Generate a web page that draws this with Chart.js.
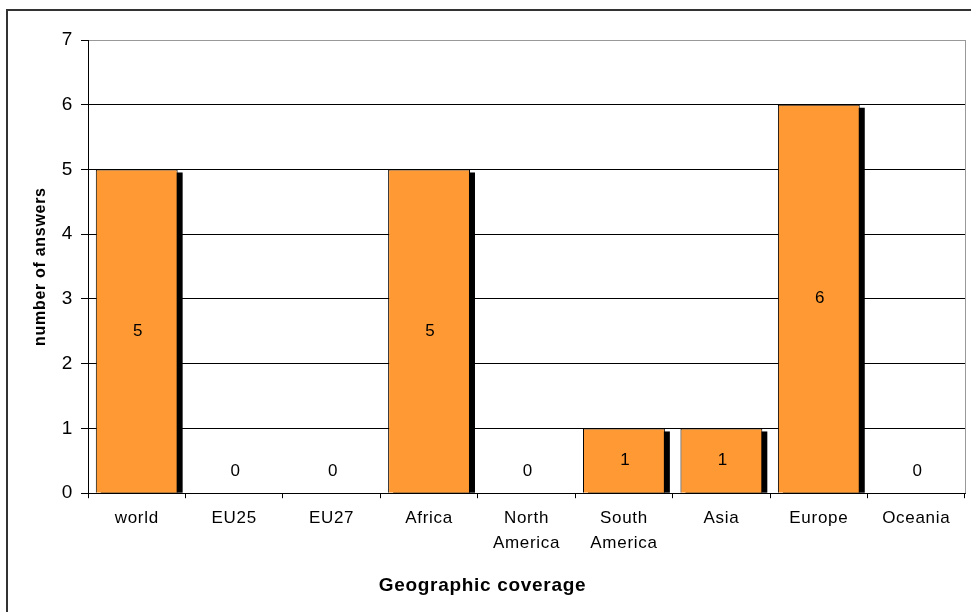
<!DOCTYPE html>
<html>
<head>
<meta charset="utf-8">
<script src="https://cdn.jsdelivr.net/npm/chart.js@4"></script>
<style>
    html, body { margin: 0; padding: 0; background: #fff; }
    #wrap { width: 971px; height: 612px; }
</style>
</head>
<body>
<div id="wrap"><canvas id="geoChart" width="971" height="612"></canvas></div>
<script>
// datos
var categorias = ['world', 'EU25', 'EU27', 'Africa', ['North', 'America'], ['South', 'America'], 'Asia', 'Europe', 'Oceania'];
var respuestas = [5, 0, 0, 5, 0, 1, 1, 6, 0];
var ejeY = [0, 1, 2, 3, 4, 5, 6, 7];

var fuente = 'Liberation Sans, Arial, sans-serif';
var espacio = '0.7px';

// espaciado de letras como en el original
var espaciado = {
    id: 'espaciado',
    beforeLayout: function(chart) { chart.ctx.letterSpacing = espacio; },
    beforeDraw: function(chart) { chart.ctx.letterSpacing = espacio; }
};

// sombra negra de las barras
var sombra = {
    id: 'sombra',
    beforeDatasetsDraw: function(chart) {
        var ctx = chart.ctx;
        var area = chart.chartArea;
        ctx.save();
        ctx.beginPath();
        ctx.rect(area.left, area.top, area.right - area.left, area.bottom - area.top);
        ctx.clip();
        ctx.fillStyle = '#000';
        chart.getDatasetMeta(0).data.forEach(function(bar, i) {
            if (!respuestas[i]) return;
            var p = bar.getProps(['x', 'y', 'base', 'width'], true);
            ctx.fillRect(p.x - p.width / 2 + 5, p.y + 3, p.width, p.base - p.y - 3);
        });
        ctx.restore();
    }
};

// valores dentro de las barras, borde derecho y marco exterior
var etiquetas = {
    id: 'etiquetas',
    afterDraw: function(chart) {
        var ctx = chart.ctx;
        var area = chart.chartArea;
        ctx.save();
        ctx.letterSpacing = '0px';
        ctx.font = '17px ' + fuente;
        ctx.fillStyle = '#000';
        ctx.textAlign = 'center';
        ctx.textBaseline = 'middle';
        chart.getDatasetMeta(0).data.forEach(function(bar, i) {
            var p = bar.getProps(['x', 'y', 'base'], true);
            var yy = respuestas[i] ? (p.y + p.base) / 2 : p.base - 22;
            ctx.fillText(String(respuestas[i]), p.x + 1, yy);
        });
        ctx.strokeStyle = '#999';
        ctx.lineWidth = 1;
        ctx.beginPath();
        ctx.moveTo(Math.round(area.right) + 0.5, area.top);
        ctx.lineTo(Math.round(area.right) + 0.5, area.bottom);
        ctx.stroke();
        ctx.fillStyle = '#333';
        ctx.fillRect(6, 9, 965, 2);
        ctx.fillRect(6, 9, 2, 603);
        ctx.restore();
    }
};

var ctx = document.getElementById('geoChart').getContext('2d');
var chart = new Chart(ctx, {
    type: 'bar',
    data: {
        labels: categorias,
        datasets: [{
            label: 'number of answers',
            data: respuestas,
            backgroundColor: '#FF9933',
            borderColor: '#000',
            borderWidth: 1,
            barPercentage: 0.84,
            categoryPercentage: 1
        }]
    },
    options: {
        responsive: false,
        animation: false,
        layout: { padding: { top: 40, right: 6, left: 0, bottom: 0 } },
        plugins: {
            legend: { display: false },
            tooltip: { enabled: false },
            title: {
                display: true,
                position: 'bottom',
                text: 'Geographic coverage',
                color: '#000',
                font: { family: fuente, size: 19, weight: 'bold', lineHeight: 1.2 },
                padding: { top: 0, bottom: 15 }
            }
        },
        scales: {
            x: {
                grid: {
                    display: true,
                    drawOnChartArea: false,
                    drawTicks: true,
                    tickLength: 5,
                    offset: true,
                    color: '#000'
                },
                border: { color: '#000' },
                ticks: {
                    color: '#000',
                    padding: 8,
                    maxRotation: 0,
                    autoSkip: false,
                    font: { family: fuente, size: 17, lineHeight: 1.45 }
                },
                afterFit: function(scale) { scale.height = 81; }
            },
            y: {
                min: 0,
                max: 7,
                afterBuildTicks: function(scale) {
                    scale.ticks = ejeY.map(function(v) { return { value: v }; });
                },
                grid: {
                    color: function(c) { return c.tick && c.tick.value === 7 ? '#999' : '#000'; },
                    tickColor: '#000',
                    tickLength: 7
                },
                border: { color: '#000' },
                ticks: {
                    color: '#000',
                    padding: 8,
                    font: { family: fuente, size: 19 }
                },
                title: {
                    display: true,
                    text: 'number of answers',
                    color: '#000',
                    font: { family: fuente, size: 16, weight: 'bold', lineHeight: 1.2 },
                    padding: { top: 31, bottom: 0 }
                },
                afterFit: function(scale) { scale.width = 88; }
            }
        }
    },
    plugins: [espaciado, sombra, etiquetas]
});
</script>
</body>
</html>
